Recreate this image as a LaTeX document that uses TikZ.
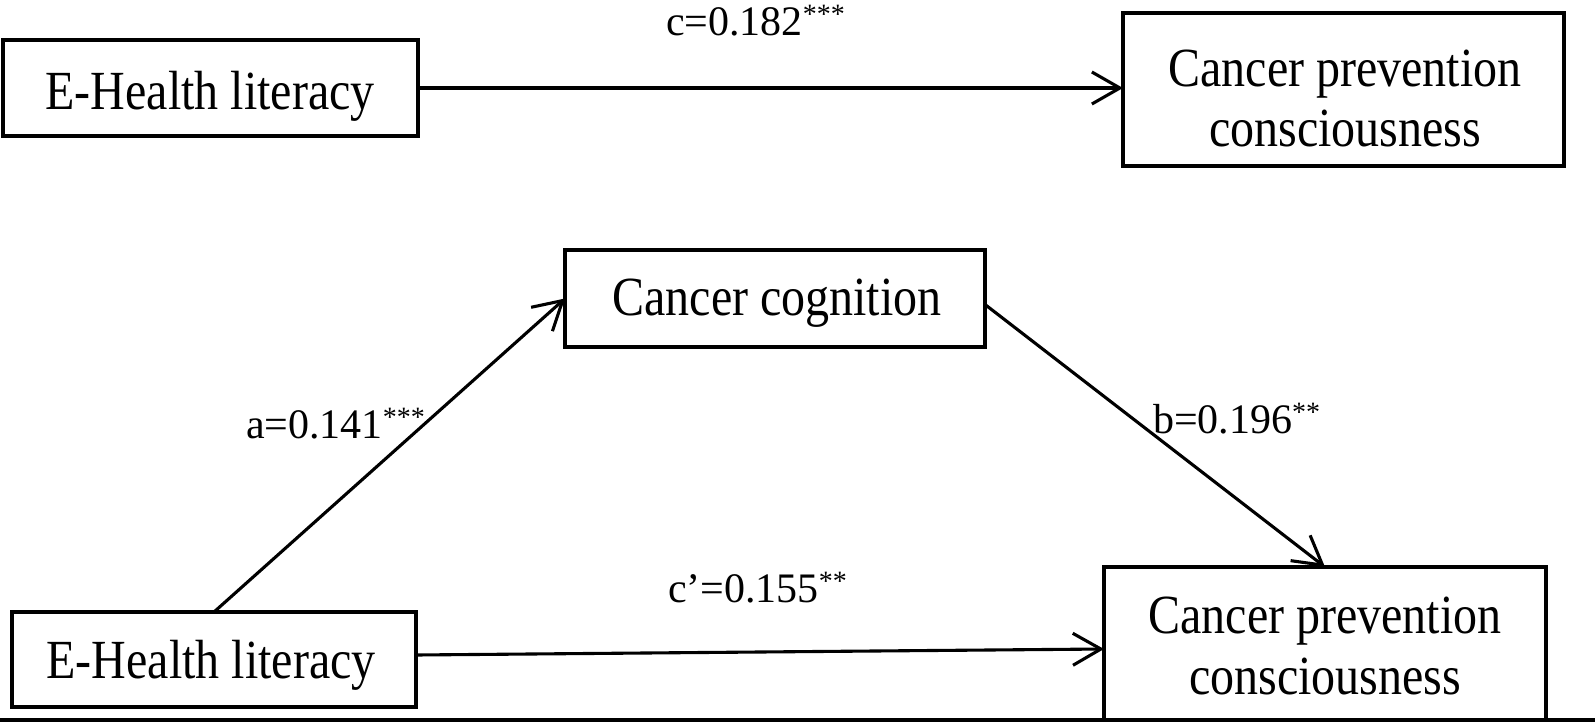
\documentclass[tikz,border=0pt]{standalone}
\usepackage{fontspec}
\usepackage{graphicx}
\setmainfont{Liberation Serif}
\usetikzlibrary{arrows.meta,calc}
\newcommand\sigstars[1]{\raisebox{12pt}{\fontsize{28}{30}\selectfont #1}}
\newcommand\tallt[1]{\scalebox{1}[1.15]{#1}}
\begin{document}
\begin{tikzpicture}[x=1pt,y=-1pt,
  boxnode/.style={draw=black,line width=3.1pt,inner sep=0pt,outer sep=0pt,rectangle},
  boxtext/.style={inner sep=0pt,outer sep=0pt,anchor=base,font=\fontsize{48}{60}\selectfont},
  labtext/.style={inner sep=0pt,outer sep=0pt,anchor=base west,font=\fontsize{42}{50}\selectfont},
  conn/.style={line width=3.1pt,-{Straight Barb[length=28pt,width=32pt,line width=3.1pt]}},
  rule/.style={line width=3.1pt}]
\useasboundingbox (0,0) rectangle (1595,722);
% boxes
\node[boxnode,minimum width=415pt,minimum height=96pt] (eh1) at (210.5,88) {};
\node[boxnode,minimum width=441pt,minimum height=153pt] (cp1) at (1343.5,89.5) {};
\node[boxnode,minimum width=420pt,minimum height=97pt] (cc) at (775,298.5) {};
\node[boxnode,minimum width=404pt,minimum height=95pt] (eh2) at (214,659.5) {};
\node[boxnode,minimum width=442pt,minimum height=153pt] (cp2) at (1325,643.5) {};
% texts
\node[boxtext] (t1) at (210,110) {\tallt{E-Health literacy}};
\node[boxtext] (t2a) at (1345,87) {\tallt{Cancer prevention}};
\node[boxtext] (t2b) at (1345,147) {\tallt{consciousness}};
\node[boxtext] (t3) at (777,315) {\tallt{Cancer cognition}};
\node[boxtext] (t4) at (211,678) {\tallt{E-Health literacy}};
\node[boxtext] (t5a) at (1325,633) {\tallt{Cancer prevention}};
\node[boxtext] (t5b) at (1325,694) {\tallt{consciousness}};
% labels
\node[labtext] (lc) at (666,36) {c=0.182\sigstars{***}};
\node[labtext] (lcp) at (668,602) {c’=0.155\sigstars{**}};
\node[labtext] (la) at (246,438) {a=0.141\sigstars{***}};
\node[labtext] (lb) at (1153,433) {b=0.196\sigstars{**}};
% connectors
\draw[conn] (eh1.east) -- (eh1.east -| cp1.west);
\draw[conn] (eh2.north) -- (cc.west);
\draw[conn] ($(cc.east)+(0,6)$) -- (cp2.north);
\draw[conn] ($(eh2.east)+(0,-4.5)$) -- ($(cp2.west)+(0,5.5)$);
% bottom rule
\coordinate (rl) at (0,720);
\coordinate (rr) at (1595,720);
\draw[rule] (rl) -- (rr);
\end{tikzpicture}
\end{document}
